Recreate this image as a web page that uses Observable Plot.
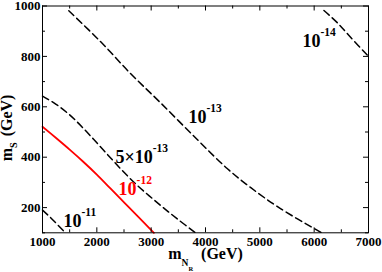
<!DOCTYPE html>
<html><head><meta charset="utf-8">
<script src="https://cdn.jsdelivr.net/npm/d3@7"></script>
<script src="https://cdn.jsdelivr.net/npm/@observablehq/plot@0.6"></script>
<style>
body{margin:0;background:#fff}
svg text, svg tspan{font-weight:bold !important;font-family:'Liberation Serif','Times New Roman',serif !important}
</style>
</head><body><div id="chart"></div>
<script>
// tick values
const xMajor = [1000, 2000, 3000, 4000, 5000, 6000, 7000];
const xMinor = [1500, 2500, 3500, 4500, 5500, 6500];
const yMajor = [200, 400, 600, 800, 1000];
const yMinor = [100, 300, 500, 700, 900];

// contour curves (m_NR in GeV, m_S in GeV)
const c11X = [1000, 1150, 1420];
const c11Y = [190, 160, 100];
const c12X = [1000, 1250, 1500, 1750, 2000, 2250, 2500, 2750, 3050];
const c12Y = [521, 476, 430, 382, 331, 276, 221, 166, 100];
const c5e13X = [1000, 1250, 1500, 1750, 2000, 2250, 2500, 2750, 3000, 3250, 3500, 3816];
const c5e13Y = [642, 610, 568, 515, 457, 398, 340, 287, 240, 195, 152, 100];
const c13X = [1484, 2067, 2620, 3172, 3853, 4399, 4828, 5380, 6140];
const c13Y = [981, 859, 732, 616, 469, 355, 280, 196, 100];
const c14X = [6180, 6420, 6670, 7000];
const c14Y = [982, 935, 876, 800];

// curve labels
const labelText = ["10|^-11", "10|^-12", "5\u00d710|^-13", "10|^-13", "10|^-14"];
const labelX = [1386, 2400, 2344, 3687, 5785];
const labelY = [122, 250, 377, 537, 839];
const labelColor = ["black", "red", "black", "black", "black"];

const toRows = (xs, ys) => xs.map((x, i) => ({x, y: ys[i]}));
const labels = labelText.map((t, i) => ({t, x: labelX[i], y: labelY[i], c: labelColor[i]}));

const W = 382, H = 272, mL = 42, mR = 14, mT = 5.5, mB = 39.7;
const innerH = H - mT - mB, innerW = W - mL - mR;
const serif = "'Liberation Serif', 'Times New Roman', serif";
const dashed = {x: "x", y: "y", stroke: "black", strokeWidth: 1.5, strokeDasharray: "7,4", curve: "catmull-rom"};

const plot = Plot.plot({
  width: W, height: H,
  marginLeft: mL, marginRight: mR, marginTop: mT, marginBottom: mB,
  x: {domain: [1000, 7000]},
  y: {domain: [100, 1000]},
  style: {fontFamily: serif, background: "white", color: "black"},
  marks: [
    Plot.line(toRows(c11X, c11Y), dashed),
    Plot.line(toRows(c5e13X, c5e13Y), dashed),
    Plot.line(toRows(c13X, c13Y), dashed),
    Plot.line(toRows(c14X, c14Y), dashed),
    Plot.line(toRows(c12X, c12Y), {x: "x", y: "y", stroke: "#ff0000", strokeWidth: 1.8, curve: "catmull-rom"}),
    Plot.frame({stroke: "black"}),
    Plot.tickX(xMajor, {x: d => d, insetTop: innerH - 5, stroke: "black"}),
    Plot.tickX(xMajor, {x: d => d, insetBottom: innerH - 5, stroke: "black"}),
    Plot.tickX(xMinor, {x: d => d, insetTop: innerH - 3, stroke: "black"}),
    Plot.tickX(xMinor, {x: d => d, insetBottom: innerH - 3, stroke: "black"}),
    Plot.tickY(yMajor, {y: d => d, insetRight: innerW - 5, stroke: "black"}),
    Plot.tickY(yMajor, {y: d => d, insetLeft: innerW - 5, stroke: "black"}),
    Plot.tickY(yMinor, {y: d => d, insetRight: innerW - 3, stroke: "black"}),
    Plot.tickY(yMinor, {y: d => d, insetLeft: innerW - 3, stroke: "black"}),
    Plot.axisX({ticks: xMajor, tickSize: 0, tickPadding: 4, fontSize: 13, fontFamily: serif, fontWeight: "bold", label: null, tickFormat: d => String(d)}),
    Plot.axisY({ticks: yMajor, tickSize: 0, tickPadding: 2, fontSize: 13, fontFamily: serif, fontWeight: "bold", label: null, tickFormat: d => String(d)}),
    Plot.text(labels, {x: "x", y: "y", text: "t", fill: "c", textAnchor: "start", lineAnchor: "bottom", fontSize: 18, fontFamily: serif, fontWeight: "bold", className: "clabel"}),
    Plot.text(["m|_S| (GeV)"], {frameAnchor: "left", rotate: -90, dx: -30.5, dy: 8.5, textAnchor: "middle", lineAnchor: "bottom", fontSize: 16, fontFamily: serif, fontWeight: "bold", fill: "black", className: "ylab"}),
    Plot.text(["m|_N|~R| (GeV)"], {frameAnchor: "bottom", dy: 26.5, textAnchor: "middle", lineAnchor: "bottom", fontSize: 16, fontFamily: serif, fontWeight: "bold", fill: "black", className: "xlab"})
  ]
});
document.getElementById("chart").appendChild(plot);

// rich text: ^ superscript, _ subscript, ~ sub-subscript
function richify(selector, base, spec) {
  d3.select(plot).selectAll(selector + " text").each(function () {
    const t = d3.select(this);
    const s = t.text();
    if (!s.includes("|")) return;
    const parts = s.split("|");
    t.text("");
    let cur = 0;
    for (const p of parts) {
      let kind = p[0], txt = p, size = base, off = 0, dx = 0;
      if (kind === "^") { txt = p.slice(1); size = spec.sup[0]; off = spec.sup[1]; }
      else if (kind === "_") { txt = p.slice(1); size = spec.sub[0]; off = spec.sub[1]; }
      else if (kind === "~") { txt = p.slice(1); size = spec.subsub[0]; off = spec.subsub[1]; }
      else if (p.startsWith(" ")) { dx = spec.gap || 0; }
      const ts = t.append("tspan").attr("font-size", size).attr("dy", off - cur).text(txt);
      if (dx) ts.attr("dx", dx);
      cur = off;
    }
  });
}
richify(".clabel", 18, {sup: [11.5, -11]});
richify(".ylab", 16, {sub: [10, 5], gap: 2});
richify(".xlab", 16, {sub: [9.5, 7], subsub: [6.5, 12], gap: 4});
</script>
</body></html>
